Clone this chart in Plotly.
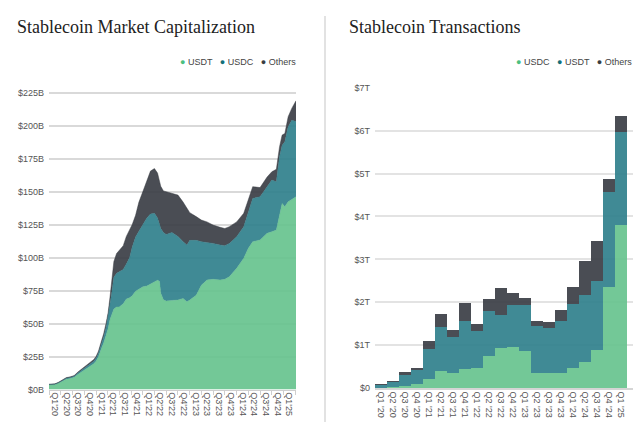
import plotly.graph_objects as go

# ---- market cap (left), values in $B ----
mcap_dates = [
    "2020-01-01", "2020-02-15", "2020-03-15", "2020-04-15", "2020-05-15", "2020-06-15",
    "2020-07-15", "2020-08-15", "2020-09-15", "2020-10-15", "2020-11-15", "2020-12-15",
    "2021-01-01", "2021-01-20", "2021-02-10", "2021-03-01", "2021-03-20", "2021-04-05",
    "2021-04-20", "2021-05-05", "2021-05-20", "2021-06-10", "2021-07-01", "2021-08-01",
    "2021-08-25", "2021-09-20", "2021-10-10", "2021-11-05", "2021-12-01", "2022-01-01",
    "2022-02-01", "2022-03-01", "2022-04-01", "2022-04-25", "2022-05-10", "2022-05-20",
    "2022-06-10", "2022-07-01", "2022-08-15", "2022-10-01", "2022-11-10", "2022-12-10",
    "2023-01-01", "2023-02-20", "2023-04-01", "2023-05-15", "2023-07-01", "2023-08-25",
    "2023-10-01", "2023-11-05", "2024-01-01", "2024-02-25", "2024-04-01", "2024-05-05",
    "2024-07-01", "2024-08-25", "2024-10-01", "2024-11-05", "2024-11-30", "2024-12-20",
    "2025-01-10", "2025-02-05", "2025-03-05", "2025-04-07",
]
mcap_usdt = [
    3.5, 3.7, 4.7, 6.5, 7.8, 8.4, 9.2, 11.6, 13.6, 15.8, 17.4, 19.6,
    21.5, 24.8, 30.5, 35.0, 41.0, 46.0, 53.0, 58.0, 61.0, 62.5, 62.6, 65.0,
    68.5, 69.5, 71.0, 74.5, 76.0, 77.8, 78.5, 80.0, 81.6, 82.8, 82.0, 73.0,
    68.0, 67.0, 67.5, 67.8, 69.0, 66.5, 67.8, 71.5, 79.0, 83.0, 83.5, 83.0,
    83.5, 85.5, 91.8, 99.4, 107.0, 112.0, 113.3, 118.3, 119.6, 120.8, 132.0, 141.0,
    138.5, 142.3, 144.0, 146.0,
]
mcap_usdc = [
    0.3, 0.3, 0.4, 0.6, 0.7, 0.7, 0.8, 1.0, 1.3, 1.7, 2.0, 1.9,
    2.1, 2.6, 3.5, 4.5, 6.0, 9.0, 12.0, 16.0, 24.0, 25.5, 26.4, 26.0,
    26.5, 30.5, 37.0, 41.0, 44.0, 46.7, 51.5, 53.0, 51.9, 47.2, 43.0, 49.0,
    51.0, 50.5, 51.5, 48.2, 43.0, 43.0, 45.2, 41.5, 33.0, 28.5, 27.2, 26.5,
    25.5, 25.2, 24.0, 24.0, 27.7, 32.8, 32.7, 35.7, 39.1, 36.6, 44.4, 44.0,
    49.2, 56.7, 60.0, 57.0,
]
mcap_others = [
    0.2, 0.3, 0.4, 0.5, 0.5, 0.5, 0.6, 0.8, 0.9, 1.1, 1.2, 1.3,
    1.4, 1.6, 2.0, 2.5, 3.0, 3.0, 5.0, 8.0, 12.0, 15.0, 16.5, 18.0,
    21.0, 21.0, 17.0, 16.5, 22.0, 25.5, 28.0, 32.5, 33.9, 34.0, 33.0, 32.0,
    31.5, 32.5, 30.0, 31.3, 30.0, 27.5, 21.0, 18.0, 16.4, 15.5, 13.9, 13.4,
    13.0, 12.7, 11.2, 10.1, 8.9, 8.9, 7.0, 7.0, 6.3, 9.4, 7.6, 7.8,
    6.3, 7.7, 9.0, 15.8,
]
q_start = [
    "2020-01-01", "2020-04-01", "2020-07-01", "2020-10-01", "2021-01-01", "2021-04-01",
    "2021-07-01", "2021-10-01", "2022-01-01", "2022-04-01", "2022-07-01", "2022-10-01",
    "2023-01-01", "2023-04-01", "2023-07-01", "2023-10-01", "2024-01-01", "2024-04-01",
    "2024-07-01", "2024-10-01", "2025-01-01", "2025-04-01",
]
q_mid = [
    "2020-02-15", "2020-05-16", "2020-08-16", "2020-11-15", "2021-02-14", "2021-05-16",
    "2021-08-16", "2021-11-15", "2022-02-14", "2022-05-16", "2022-08-16", "2022-11-15",
    "2023-02-14", "2023-05-16", "2023-08-16", "2023-11-15", "2024-02-15", "2024-05-16",
    "2024-08-16", "2024-11-15", "2025-02-14",
]
mcap_ticks = ["Q1'20", "Q2'20", "Q3'20", "Q4'20", "Q1'21", "Q2'21", "Q3'21", "Q4'21",
              "Q1'22", "Q2'22", "Q3'22", "Q4'22", "Q1'23", "Q2'23", "Q3'23", "Q4'23",
              "Q1'24", "Q2'24", "Q3'24", "Q4'24", "Q1'25"]
mcap_yvals = [0, 25, 50, 75, 100, 125, 150, 175, 200, 225]
mcap_ylabels = ["$0B", "$25B", "$50B", "$75B", "$100B", "$125B", "$150B", "$175B", "$200B", "$225B"]

# ---- transactions (right), values in $T per quarter ----
tx_quarters = ["Q1 '20", "Q2 '20", "Q3 '20", "Q4 '20", "Q1 '21", "Q2 '21", "Q3 '21", "Q4 '21",
               "Q1 '22", "Q2 '22", "Q3 '22", "Q4 '22", "Q1 '23", "Q2 '23", "Q3 '23", "Q4 '23",
               "Q1 '24", "Q2 '24", "Q3 '24", "Q4 '24", "Q1 '25"]
tx_usdc = [0.01, 0.02, 0.05, 0.09, 0.21, 0.40, 0.34, 0.44, 0.46, 0.75, 0.94, 0.95,
           0.86, 0.36, 0.34, 0.34, 0.47, 0.61, 0.89, 2.36, 3.81]
tx_usdt = [0.06, 0.12, 0.25, 0.33, 0.69, 1.03, 0.84, 1.13, 0.86, 1.05, 0.77, 0.99,
           1.08, 1.09, 1.07, 1.23, 1.49, 1.57, 1.61, 2.22, 2.17]
tx_others = [0.02, 0.02, 0.07, 0.04, 0.20, 0.30, 0.17, 0.41, 0.17, 0.28, 0.62, 0.28,
             0.16, 0.11, 0.12, 0.25, 0.39, 0.78, 0.92, 0.30, 0.37]
tx_yvals = [0, 1, 2, 3, 4, 5, 6, 7]
tx_ylabels = ["$0", "$1T", "$2T", "$3T", "$4T", "$5T", "$6T", "$7T"]

GREEN = "rgba(100,194,140,0.9)"
TEAL = "rgba(43,125,138,0.9)"
DARK = "rgba(54,58,65,0.9)"
GREEN_DOT = "#4cbf7f"
TEAL_DOT = "#136f7a"
DARK_DOT = "#3a3d42"
SANS = "Liberation Sans, Arial, sans-serif"
SERIF = "Liberation Serif, Times New Roman, serif"
TICK = "#555555"

# the page body adds an 8px margin, so the figure is sized to the space left
W, H = 634, 421


def px(x):
    return (x - 8) / W


def py(y):
    return 1 - (y - 8) / H


fig = go.Figure()

for name, vals, col in [("USDT", mcap_usdt, GREEN), ("USDC", mcap_usdc, TEAL), ("Others", mcap_others, DARK)]:
    fig.add_trace(go.Scatter(
        x=mcap_dates, y=vals, name=name, mode="lines", stackgroup="mcap",
        line=dict(width=0.5, color=col), fillcolor=col,
        xaxis="x", yaxis="y", showlegend=False,
    ))

for name, vals, col in [("USDC", tx_usdc, GREEN), ("USDT", tx_usdt, TEAL), ("Others", tx_others, DARK)]:
    fig.add_trace(go.Bar(
        x=tx_quarters, y=vals, name=name, marker=dict(color=col, line=dict(width=0)),
        xaxis="x2", yaxis="y2", showlegend=False,
    ))

fig.update_layout(
    width=W, height=H,
    margin=dict(l=0, r=0, t=0, b=0),
    paper_bgcolor="white", plot_bgcolor="white",
    barmode="stack", bargap=0.08,
    font=dict(family=SANS, size=9, color=TICK),
    xaxis=dict(
        domain=[px(49), px(296)], anchor="y", type="date",
        range=["2020-01-01", "2025-04-07"],
        tickmode="array", tickvals=q_mid, ticktext=mcap_ticks, tickangle=90,
        ticks="", showgrid=False, showline=True, linecolor="#cfcfcf", linewidth=1,
        minor=dict(tickmode="array", tickvals=q_start, ticks="outside", ticklen=4,
                   tickcolor="#cfcfcf", showgrid=False),
        tickfont=dict(size=9, color=TICK), automargin=False,
    ),
    yaxis=dict(
        domain=[py(389.5), py(91.5)], anchor="x",
        range=[0, 225.8], tickmode="array", tickvals=mcap_yvals, ticktext=mcap_ylabels,
        showgrid=True, gridcolor="#d9d9d9", gridwidth=1.5, zeroline=False,
        ticks="", ticklabelstandoff=4, tickfont=dict(size=9, color=TICK), automargin=False,
    ),
    xaxis2=dict(
        domain=[px(375), px(633)], anchor="y2", type="category",
        range=[-0.5, 21.0], tickangle=90, ticks="", showgrid=False,
        showline=True, linecolor="#d5d5d5", linewidth=1.5,
        tickfont=dict(size=9, color=TICK), automargin=False,
    ),
    yaxis2=dict(
        domain=[py(388), py(87)], anchor="x2",
        range=[0, 7.02], tickmode="array", tickvals=tx_yvals, ticktext=tx_ylabels,
        showgrid=True, gridcolor="#e3e3e3", gridwidth=1.5, zeroline=False,
        ticks="", ticklabelstandoff=4, tickfont=dict(size=9, color=TICK), automargin=False,
    ),
)


def legend_text(names, colors):
    parts = ['<span style="color:%s">●</span> %s' % (c, n) for n, c in zip(names, colors)]
    return "   ".join(parts)


fig.add_annotation(
    text="Stablecoin Market Capitalization", xref="paper", yref="paper",
    x=px(15), y=py(15), xanchor="left", yanchor="top", showarrow=False,
    font=dict(family=SERIF, size=18, color="#222222"),
)
fig.add_annotation(
    text="Stablecoin Transactions", xref="paper", yref="paper",
    x=px(347), y=py(15), xanchor="left", yanchor="top", showarrow=False,
    font=dict(family=SERIF, size=18, color="#222222"),
)
fig.add_annotation(
    text=legend_text(["USDT", "USDC", "Others"], [GREEN_DOT, TEAL_DOT, DARK_DOT]),
    xref="paper", yref="paper", x=px(298), y=py(62),
    xanchor="right", yanchor="middle", showarrow=False,
    font=dict(family=SANS, size=9, color="#444444"),
)
fig.add_annotation(
    text=legend_text(["USDC", "USDT", "Others"], [GREEN_DOT, TEAL_DOT, DARK_DOT]),
    xref="paper", yref="paper", x=px(634), y=py(62),
    xanchor="right", yanchor="middle", showarrow=False,
    font=dict(family=SANS, size=9, color="#444444"),
)
fig.add_shape(
    type="line", xref="paper", yref="paper",
    x0=px(325), x1=px(325), y0=py(422), y1=py(16),
    line=dict(color="#e2e2e2", width=2),
)

fig.write_html("out.html")
